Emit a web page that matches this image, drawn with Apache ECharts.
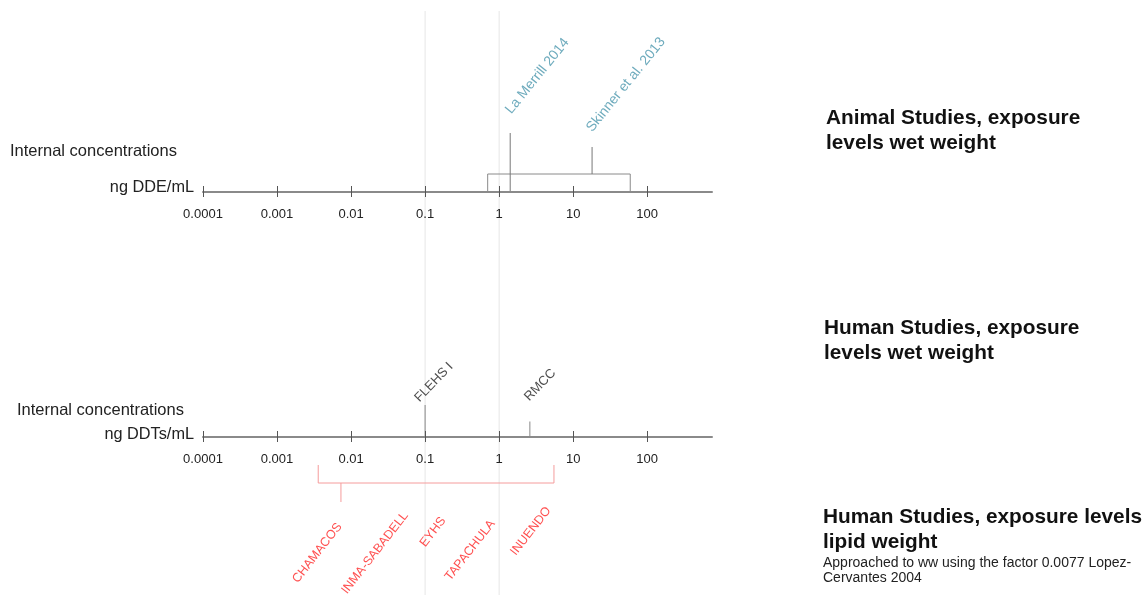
<!DOCTYPE html>
<html>
<head>
<meta charset="utf-8">
<script src="https://cdn.jsdelivr.net/npm/echarts@6/dist/echarts.min.js"></script>
<style>
html,body{margin:0;padding:0;background:#fff;}
#chart{width:1145px;height:595px;}
</style>
</head>
<body>
<div id="chart"></div>
<script>
// ---------- data ----------
const XMIN = 0.0001;
const XMAX = 750;
const tickValues = [0.0001, 0.001, 0.01, 0.1, 1, 10, 100];
const tickLabels = ['0.0001', '0.001', '0.01', '0.1', '1', '10', '100'];
const refLines = [0.1, 1];

const animalStudies = ['La Merrill 2014', 'Skinner et al. 2013'];
const animalValues = [1.41, 18];
const animalRange = [0.70, 59];

const humanWwStudies = ['FLEHS I', 'RMCC'];
const humanWwValues = [0.1, 2.6];

const lipidStudies = ['CHAMACOS', 'INMA-SABADELL', 'EYHS', 'TAPACHULA', 'INUENDO'];
const lipidValues = [0.0073, 0.059, 0.19, 0.88, 5.0];
const lipidRange = [0.0036, 5.5];

const panelTitles = [
  'Animal Studies, exposure\nlevels wet weight',
  'Human Studies, exposure\nlevels wet weight',
  'Human Studies, exposure levels\nlipid weight'
];
const lipidNote = 'Approached to ww using the factor 0.0077 Lopez-\nCervantes 2004';
const rowLabel = 'Internal concentrations';
const unitTop = 'ng DDE/mL';
const unitBottom = 'ng DDTs/mL';

// ---------- layout (pixels, not data) ----------
const FONT = '"Liberation Sans", Arial, Helvetica, sans-serif';
const LAY = {
  left: 203, right: 433,
  axisA: 192, axisB: 437, topB: 300,
  animalBracketH: 18,
  animalStemBase: [0, 18], animalStemTop: [59, 45],
  animalLabelY: [75, 57], animalLabelDx: [4, 3],
  wwStemTop: [32, 15.5], wwLabelY: [32, 33], wwLabelDx: [-3, 2],
  lipidBracketTop: -28, lipidBracketBottom: -46, firstStemEnd: -65,
  lipidLabelY: [-84, -73, -78, -81, -68], lipidLabelDx: [-6, -7, -7, -7, -7],
  refTop: 11
};
const TEAL = '#4a96ad';
const RED = '#ff2424';
const PINK = '#f59c9c';
const GREY = '#8a8a8a';

function mainAxis(grid) {
  return {
    type: 'log', logBase: 10, gridIndex: grid, min: XMIN, max: XMAX,
    position: 'bottom', z: 5,
    axisLine: { show: true, onZero: false, lineStyle: { color: GREY, width: 2 } },
    axisTick: { show: true, inside: false, length: 5, customValues: tickValues, lineStyle: { color: '#555', width: 1 } },
    axisLabel: {
      show: true, customValues: tickValues, margin: 16, fontSize: 13, color: '#222', fontFamily: FONT,
      formatter: v => { const i = tickValues.findIndex(t => Math.abs(Math.log10(t) - Math.log10(v)) < 1e-6); return i >= 0 ? tickLabels[i] : ''; }
    },
    splitLine: { show: false }, minorTick: { show: false }
  };
}
function innerTickAxis(grid) {
  return {
    type: 'log', logBase: 10, gridIndex: grid, min: XMIN, max: XMAX,
    position: 'bottom', z: 5,
    axisLine: { show: false, onZero: false },
    axisTick: { show: true, inside: true, length: 6, customValues: tickValues, lineStyle: { color: '#555', width: 1 } },
    axisLabel: { show: false },
    splitLine: { show: false }
  };
}
function seg(points, color, xi, yi, z) {
  return {
    type: 'line', xAxisIndex: xi, yAxisIndex: yi, data: points, symbol: 'none', clip: false,
    lineStyle: { color: color, width: 1 }, silent: true, animation: false, z: z || 3
  };
}
function labels(names, values, ys, dxs, color, size, rot, align, vAlign, xi, yi) {
  return {
    type: 'scatter', xAxisIndex: xi, yAxisIndex: yi, symbolSize: 1, clip: false,
    itemStyle: { color: 'rgba(0,0,0,0)' }, silent: true, animation: false, z: 6,
    data: names.map((n, i) => ({
      name: n, value: [values[i], ys[i]],
      label: { position: [dxs ? dxs[i] : 0, 0] }
    })),
    label: {
      show: true, formatter: '{b}', rotate: rot, align: align, verticalAlign: vAlign,
      color: color, fontSize: size, fontFamily: FONT
    },
    labelLayout: { hideOverlap: false }
  };
}

const series = [];
// faint reference lines (full height grid)
refLines.forEach(v => series.push(seg([[v, LAY.refTop], [v, 595]], '#e6e6e6', 4, 2, 1)));

// Panel A: animal studies
series.push(seg([[animalRange[0], 0], [animalRange[0], LAY.animalBracketH], [animalRange[1], LAY.animalBracketH], [animalRange[1], 0]], GREY, 0, 0));
animalValues.forEach((v, i) => series.push(seg([[v, LAY.animalStemBase[i]], [v, LAY.animalStemTop[i]]], '#777', 0, 0)));
series.push(labels(animalStudies, animalValues, LAY.animalLabelY, LAY.animalLabelDx, TEAL, 14, 51, 'left', 'bottom', 0, 0));

// Panel B: human wet weight
humanWwValues.forEach((v, i) => series.push(seg([[v, 0], [v, LAY.wwStemTop[i]]], '#888', 2, 1)));
series.push(labels(humanWwStudies, humanWwValues, LAY.wwLabelY, LAY.wwLabelDx, '#222', 13, 46, 'left', 'bottom', 2, 1));

// Lipid weight bracket + labels (below the axis)
series.push(seg([[lipidRange[0], LAY.lipidBracketTop], [lipidRange[0], LAY.lipidBracketBottom], [lipidRange[1], LAY.lipidBracketBottom], [lipidRange[1], LAY.lipidBracketTop]], PINK, 2, 1));
series.push(seg([[lipidValues[0], LAY.lipidBracketBottom], [lipidValues[0], LAY.firstStemEnd]], PINK, 2, 1));
series.push(labels(lipidStudies, lipidValues, LAY.lipidLabelY, LAY.lipidLabelDx, RED, 12.5, 52, 'right', 'top', 2, 1));

function txt(text, x, y, size, weight, align, vAlign, lh, color) {
  return {
    type: 'text', x: x, y: y, silent: true,
    style: { text: text, fontSize: size, fontWeight: weight || 'normal', fontFamily: FONT,
      fill: color || '#111', align: align || 'left', verticalAlign: vAlign || 'middle', lineHeight: lh || size * 1.2 }
  };
}

const option = {
  animation: false,
  backgroundColor: '#ffffff',
  grid: [
    { left: LAY.left, right: LAY.right, top: 0, height: LAY.axisA, outerBoundsMode: 'none', containLabel: false },
    { left: LAY.left, right: LAY.right, top: LAY.topB, height: LAY.axisB - LAY.topB, outerBoundsMode: 'none', containLabel: false },
    { left: LAY.left, right: LAY.right, top: 0, bottom: 0, outerBoundsMode: 'none', containLabel: false }
  ],
  xAxis: [
    mainAxis(0), innerTickAxis(0),
    mainAxis(1), innerTickAxis(1),
    { type: 'log', logBase: 10, gridIndex: 2, min: XMIN, max: XMAX, show: false }
  ],
  yAxis: [
    { type: 'value', gridIndex: 0, min: 0, max: LAY.axisA, show: false },
    { type: 'value', gridIndex: 1, min: 0, max: LAY.axisB - LAY.topB, show: false },
    { type: 'value', gridIndex: 2, min: 0, max: 595, inverse: true, show: false }
  ],
  series: series,
  graphic: [
    txt(rowLabel, 10, 151, 16.5, 'normal', 'left', 'middle', 18, '#222'),
    txt(unitTop, 194, 188, 16.3, 'normal', 'right', 'middle', 18, '#222'),
    txt(rowLabel, 17, 410, 16.5, 'normal', 'left', 'middle', 18, '#222'),
    txt(unitBottom, 194, 435, 16.3, 'normal', 'right', 'middle', 18, '#222'),
    txt(panelTitles[0], 826, 106, 20.8, 'bold', 'left', 'top', 25, '#111'),
    txt(panelTitles[1], 824, 316, 20.8, 'bold', 'left', 'top', 25, '#111'),
    txt(panelTitles[2], 823, 505, 20.8, 'bold', 'left', 'top', 25, '#111'),
    txt(lipidNote, 823, 556, 14, 'normal', 'left', 'top', 15, '#222')
  ]
};

const chart = echarts.init(document.getElementById('chart'), null, { renderer: 'canvas' });
chart.setOption(option);
</script>
</body>
</html>
